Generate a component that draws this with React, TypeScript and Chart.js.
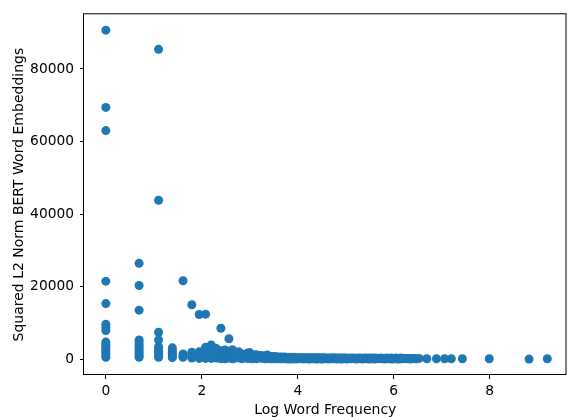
import React, { useEffect, useRef } from "react";
import { Chart, registerables } from "chart.js";

Chart.register(...registerables);

const xTickValues = [0, 2, 4, 6, 8];
const yTickValues = [0, 20000, 40000, 60000, 80000];

// Low-frequency columns (log count), each with its squared norms
const spikeFreq = [0, 0.693, 1.099, 1.386, 1.609, 1.792, 1.946, 2.079];
const spikeNorms = [
  [90700, 69400, 63000, 21500, 15300, 9600, 8700, 7900, 4700, 4100, 3500, 2900, 2300, 1700, 1100, 500],
  [26400, 20300, 13500, 5300, 4700, 4000, 3400, 2800, 2200, 1600, 1000, 500],
  [85400, 43800, 7400, 5300, 3400, 2800, 2200, 1600, 1000, 500],
  [3100, 2500, 1900, 1300, 700, 400],
  [21600, 1400, 900, 500],
  [15000, 1900, 1300, 700, 300],
  [12300, 2000, 1300, 600, 200],
  [12400, 3300, 2400, 1600, 800, 200],
];

// Mid-frequency band
const bandFreq = [
  2.197, 2.303, 2.398, 2.485, 2.565, 2.639, 2.708, 2.773, 2.833, 2.89,
  2.944, 2.996, 3.045, 3.091, 3.135, 3.178, 3.219, 3.258, 3.296, 3.332,
  3.367, 3.401, 3.434, 3.466, 3.497, 3.526, 3.555, 3.584, 3.611, 3.638,
  3.664, 3.689, 3.714, 3.738, 3.761, 3.784, 3.807, 3.829, 3.85, 3.871,
  3.892, 3.912, 3.932, 3.951, 3.97, 3.989, 4.007,
];
const bandNorms = [
  [3900, 2600, 1600, 800, 200], [2900, 1900, 1000, 300], [8500, 2300, 1300, 500, 100],
  [2500, 1500, 700, 100], [5600, 1800, 900, 300], [2600, 1500, 700, 100],
  [1900, 1000, 300], [2000, 1100, 400], [1400, 700, 100], [1300, 500],
  [1600, 800, 200], [1800, 900, 200], [1300, 600, 100], [1000, 400],
  [1200, 500, 100], [900, 300], [1000, 400], [800, 200], [900, 300], [700, 100],
  [1100, 400], [800, 200], [600, 100], [700, 300], [500, 100], [700, 200],
  [500, 100], [600, 200], [400, 100], [600, 200], [500, 100], [400],
  [600, 100], [300], [500, 100], [400], [300, 0], [500], [200], [400, 0],
  [300], [500, 100], [200], [400], [300, 0], [400], [200],
];

// High-frequency tail
const tailFreq = [
  4.025, 4.043, 4.06, 4.078, 4.094, 4.111, 4.127, 4.143, 4.159, 4.174,
  4.19, 4.205, 4.22, 4.234, 4.248, 4.263, 4.277, 4.29, 4.304, 4.317,
  4.331, 4.344, 4.357, 4.369, 4.382, 4.394, 4.407, 4.419, 4.431, 4.443,
  4.454, 4.466, 4.477, 4.489, 4.5, 4.511, 4.522, 4.533, 4.543, 4.554,
  4.575, 4.595, 4.615, 4.635, 4.654, 4.673, 4.691, 4.71, 4.727, 4.745,
  4.762, 4.779, 4.796, 4.812, 4.828, 4.844, 4.86, 4.875, 4.89, 4.905,
  4.92, 4.934, 4.949, 4.963, 4.977, 4.99, 5.004, 5.03, 5.056, 5.081,
  5.106, 5.13, 5.153, 5.176, 5.198, 5.22, 5.242, 5.263, 5.283, 5.303,
  5.323, 5.342, 5.361, 5.38, 5.398, 5.416, 5.434, 5.451, 5.468, 5.485,
  5.501, 5.517, 5.533, 5.549, 5.565, 5.58, 5.595, 5.609, 5.624, 5.652,
  5.68, 5.707, 5.733, 5.759, 5.784, 5.808, 5.832, 5.855, 5.878, 5.9,
  5.922, 5.943, 5.964, 5.984, 6.004, 6.024, 6.043, 6.062, 6.081, 6.099,
  6.117, 6.135, 6.152, 6.17, 6.187, 6.22, 6.252, 6.283, 6.314, 6.344,
  6.373, 6.402, 6.43, 6.47, 6.53, 6.69, 6.89, 7.06, 7.2, 7.43,
  7.99, 8.82, 9.2,
];
const tailNorms = [
  300, 100, 400, 200, 300, 0, 400, 200, 300, 100,
  400, 200, 300, 0, 300, 100, 400, 200, 300, 100,
  200, 400, 100, 300, 200, 0, 300, 100, 400, 200,
  300, 100, 200, 300, 0, 200, 300, 100, 400, 200,
  300, 100, 200, 300, 0, 200, 300, 100, 400, 200,
  100, 300, 200, 0, 300, 200, 100, 300, 200, 0,
  300, 100, 200, 300, 100, 200, 300, 0, 200, 300,
  100, 200, 300, 100, 200, 0, 300, 200, 100, 300,
  200, 0, 200, 300, 100, 200, 300, 100, 200, 0,
  300, 200, 100, 200, 300, 100, 200, 0, 300, 200,
  100, 200, 300, 100, 200, 0, 200, 300, 100, 200,
  100, 300, 0, 200, 100, 200, 300, 100, 200, 0,
  200, 100, 300, 100, 200, 100, 200, 100, 200, 0,
  100, 200, 100, 100, 200, 100, 100, 100, 100, 100,
  100, 0, 100,
];

const FONT = "'DejaVu Sans', sans-serif";
const BLUE = "#1f77b4";

export default function App() {
  const ref = useRef<HTMLCanvasElement>(null);

  useEffect(() => {
    document.body.style.margin = "0";
    const points: { x: number; y: number }[] = [];
    spikeFreq.forEach((x, i) => (spikeNorms[i] || []).forEach((y) => points.push({ x, y })));
    bandFreq.forEach((x, i) => (bandNorms[i] || []).forEach((y) => points.push({ x, y })));
    tailFreq.forEach((x, i) => {
      if (i < tailNorms.length) points.push({ x, y: tailNorms[i] });
    });

    const framePlugin = {
      id: "frame",
      afterDraw(chart: any) {
        const { ctx, chartArea: a } = chart;
        ctx.save();
        ctx.strokeStyle = "#000";
        ctx.lineWidth = 1;
        ctx.strokeRect(a.left - 0.5, a.top - 0.5, a.right - a.left, a.bottom - a.top);
        ctx.restore();
      },
    };

    const chart = new Chart(ref.current as HTMLCanvasElement, {
      type: "scatter",
      data: {
        datasets: [
          {
            data: points,
            backgroundColor: BLUE,
            borderWidth: 0,
            pointRadius: 4.5,
            pointHoverRadius: 4.5,
          },
        ],
      },
      options: {
        responsive: false,
        animation: false,
        devicePixelRatio: 1,
        layout: { padding: { top: 12, right: 1, left: 0, bottom: 0 } },
        plugins: { legend: { display: false }, tooltip: { enabled: false } },
        scales: {
          x: {
            type: "linear",
            position: "bottom",
            min: -0.455,
            max: 9.6,
            afterBuildTicks: (s: any) => {
              s.ticks = xTickValues.map((v) => ({ value: v }));
            },
            afterFit: (s: any) => {
              s.height = 42;
            },
            ticks: {
              color: "#000",
              font: { family: FONT, size: 13.8 },
              padding: 4,
              maxRotation: 0,
              autoSkip: false,
              callback: (v: any) => String(v),
            },
            grid: { display: true, drawOnChartArea: false, tickLength: 4, color: "#000", tickWidth: 1 },
            border: { display: false },
            title: {
              display: true,
              text: "Log Word Frequency",
              color: "#000",
              font: { family: FONT, size: 14 },
              padding: { top: -2, bottom: -2 },
            },
          },
          y: {
            type: "linear",
            min: -4380,
            max: 95070,
            afterBuildTicks: (s: any) => {
              s.ticks = yTickValues.map((v) => ({ value: v }));
            },
            afterFit: (s: any) => {
              s.width = 84;
            },
            ticks: {
              color: "#000",
              font: { family: FONT, size: 13.8 },
              padding: 6,
              autoSkip: false,
              callback: (v: any) => String(v),
            },
            grid: { display: true, drawOnChartArea: false, tickLength: 4, color: "#000", tickWidth: 1 },
            border: { display: false },
            title: {
              display: true,
              text: "Squared L2 Norm BERT Word Embeddings",
              color: "#000",
              font: { family: FONT, size: 14 },
              padding: { top: 11, bottom: 11 },
            },
          },
        },
      },
      plugins: [framePlugin],
    } as any);

    return () => chart.destroy();
  }, []);

  return (
    <div style={{ width: 571, height: 417 }}>
      <canvas ref={ref} width={571} height={417} style={{ display: "block" }} />
    </div>
  );
}
